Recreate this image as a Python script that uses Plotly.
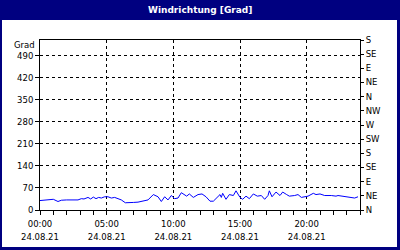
import plotly.graph_objects as go
import pandas as pd

DAY = "2021-08-24"
hours = [0.0, 0.5, 1.0, 1.35, 1.6, 2.0, 2.5, 2.85, 3.1, 3.3, 3.6, 3.8, 4.0, 4.2, 4.4, 4.6, 4.85,
         5.1, 5.35, 5.6, 5.85, 6.1, 6.4, 6.6, 7.0, 7.35, 7.7, 8.1, 8.5, 8.85, 9.1, 9.35, 9.6, 9.85,
         10.1, 10.35, 10.6, 11.0, 11.2, 11.5, 11.85, 12.15, 12.45, 12.75, 13.0, 13.2, 13.5, 13.6,
         13.7, 13.95, 14.2, 14.5, 14.7, 15.0, 15.2, 15.45, 15.7, 16.0, 16.3, 16.6, 16.85, 17.1,
         17.2, 17.4, 17.7, 18.0, 18.2, 18.5, 18.7, 19.1, 19.35, 19.6, 20.1, 20.5, 20.7, 21.0,
         21.35, 21.85, 22.2, 22.35, 22.85, 23.6, 23.85]
direction = [30, 32, 34, 27, 31, 32, 32, 32, 36, 35, 40, 35, 41, 36, 40, 38, 42,
             42, 38, 40, 36, 32, 23, 24, 24, 25, 28, 32, 49, 42, 27, 42, 32, 46,
             36, 38, 55, 44, 51, 40, 49, 51, 42, 28, 28, 36, 49, 40,
             53, 34, 49, 46, 61, 40, 34, 44, 36, 51, 44, 46, 34, 46,
             61, 42, 57, 46, 57, 49, 44, 46, 49, 40, 44, 53, 49, 51,
             46, 46, 44, 46, 42, 38, 42]
left_ticks = [0, 70, 140, 210, 280, 350, 420, 490]
right_ticks = [0, 45, 90, 135, 180, 225, 270, 315, 360, 405, 450, 495, 540]
right_labels = ["N", "NE", "E", "SE", "S", "SW", "W", "NW", "N", "NE", "E", "SE", "S"]
title_text = "Windrichtung [Grad]"
unit_text = "Grad"

times = pd.Timestamp(DAY) + pd.to_timedelta(hours, unit="h")
t0 = pd.Timestamp(DAY)
t1 = t0 + pd.Timedelta(hours=24)

NAVY = "#000080"
FONT = "DejaVu Sans"
FS = 8.5

fig = go.Figure()
fig.add_trace(go.Scatter(x=times, y=direction, mode="lines",
                         line=dict(color="#0000ff", width=1), showlegend=False,
                         hoverinfo="skip"))
fig.add_trace(go.Scatter(x=[t0], y=[0], xaxis="x2", yaxis="y2", mode="markers",
                         marker=dict(opacity=0), showlegend=False, hoverinfo="skip"))

axis_common = dict(showline=True, linecolor="black", linewidth=1, mirror=True,
                   ticks="outside", tickcolor="black", ticklen=4, tickwidth=1,
                   gridcolor="black", gridwidth=1, griddash="3px,3px", automargin=False,
                   tickfont=dict(family=FONT, size=FS, color="black"), zeroline=False)

fig.update_layout(
    width=400, height=250,
    margin=dict(l=40, r=40, t=40, b=40),
    paper_bgcolor="white", plot_bgcolor="white",
    xaxis=dict(**axis_common, type="date", range=[t0, t1], tick0=t0, dtick=5 * 3600000,
               tickformat="%H:%M", showgrid=True, ticklabelstandoff=2,
               minor=dict(dtick=3600000, ticklen=4, tickcolor="black", showgrid=False,
                          ticks="outside")),
    xaxis2=dict(type="date", overlaying="x", anchor="y", side="bottom", range=[t0, t1],
                tick0=t0, dtick=5 * 3600000, tickformat="%d.%m.%y", showgrid=False,
                showline=False, ticks="", zeroline=False, ticklabelstandoff=20,
                automargin=False,
                tickfont=dict(family=FONT, size=FS, color="black")),
    yaxis=dict(**axis_common, range=[0, 540], tickvals=left_ticks, showgrid=True),
    yaxis2=dict(overlaying="y", side="right", anchor="x", range=[0, 540],
                tickvals=right_ticks, ticktext=right_labels, ticks="outside",
                ticklen=3, tickcolor="black", showgrid=False, showline=False,
                zeroline=False, automargin=False,
                tickfont=dict(family=FONT, size=FS, color="black")),
)

# px -> paper helpers (plot area: x 40..360, y 40..210)
def px(x):
    return (x - 40) / 320

def py(y):
    return (210 - y) / 170

shapes = [
    dict(type="rect", xref="paper", yref="paper", x0=px(0), x1=px(400), y0=py(20), y1=py(0),
         fillcolor=NAVY, line=dict(width=0), layer="above"),
    dict(type="rect", xref="paper", yref="paper", x0=px(0), x1=px(2), y0=py(250), y1=py(0),
         fillcolor=NAVY, line=dict(width=0), layer="above"),
    dict(type="rect", xref="paper", yref="paper", x0=px(397), x1=px(400), y0=py(250), y1=py(0),
         fillcolor=NAVY, line=dict(width=0), layer="above"),
    dict(type="rect", xref="paper", yref="paper", x0=px(0), x1=px(400), y0=py(250), y1=py(247),
         fillcolor=NAVY, line=dict(width=0), layer="above"),
]
fig.update_layout(shapes=shapes)

fig.add_annotation(text="<b>%s</b>" % title_text, xref="paper", yref="paper",
                   x=px(200), y=py(10), showarrow=False,
                   font=dict(family=FONT, size=9, color="white"),
                   xanchor="center", yanchor="middle")
fig.add_annotation(text=unit_text, xref="paper", yref="paper",
                   x=px(37), y=py(45), showarrow=False,
                   font=dict(family=FONT, size=FS, color="black"),
                   xanchor="right", yanchor="middle")

fig.write_html("out.html")
